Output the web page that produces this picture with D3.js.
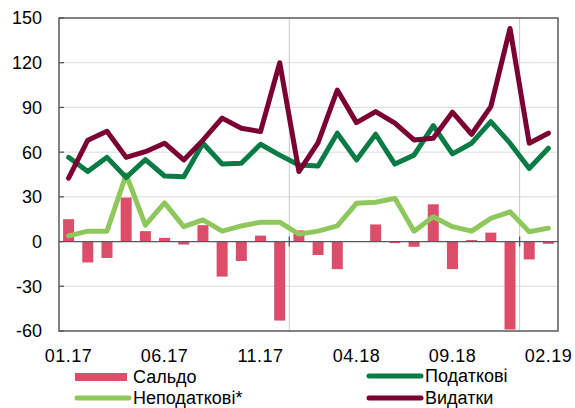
<!DOCTYPE html>
<html>
<head>
<meta charset="utf-8">
<script src="https://cdn.jsdelivr.net/npm/d3@7"></script>
<style>
  body { margin: 0; background: #fff; }
  text { font-family: "Liberation Sans", Arial, sans-serif; fill: #000; }
</style>
</head>
<body>
<script>
// months 01.17 .. 02.19
const months = ['01.17','02.17','03.17','04.17','05.17','06.17','07.17','08.17','09.17','10.17','11.17','12.17',
  '01.18','02.18','03.18','04.18','05.18','06.18','07.18','08.18','09.18','10.18','11.18','12.18',
  '01.19','02.19'];
const tickLabels = ['01.17','06.17','11.17','04.18','09.18','02.19'];
const yTicks = [-60, -30, 0, 30, 60, 90, 120, 150];

const saldo = [15, -14, -11, 29.5, 7, 2.5, -2, 11, -23.5, -13, 4, -53,
  7.5, -9, -18.5, 0, 11.5, -1, -3.5, 25, -18.5, 1, 6, -59, -12, -1.5];
const taxes = [56.5, 47, 56.5, 43, 55, 44, 43.5, 66, 52, 52.5, 65.3, 58,
  51.4, 50.7, 72.7, 54.8, 72, 52, 58, 77.8, 58.8, 66, 80.5, 66, 49, 62.6];
const nonTaxes = [3.8, 7, 7, 45, 11, 26, 10, 14.5, 7, 10.5, 13, 13,
  5, 7, 10.5, 25.7, 26.4, 29, 7, 16.7, 10, 7, 15.6, 20, 6.6, 9];
const spending = [42.5, 68, 74, 56.5, 60.3, 66, 54.8, 68, 82.8, 76, 73.8, 120,
  47, 66.4, 101.7, 79.8, 87.2, 79.4, 68.2, 69.3, 86.8, 72, 90.5, 143, 66, 72.7];

const colors = {
  saldo: '#db4d68',
  taxes: '#087c44',
  nonTaxes: '#8ec85c',
  spending: '#7b0133'
};

const W = 575, H = 408;
const pLeft = 59, pRight = 558, pTop = 18, pBottom = 331;

const svg = d3.select('body').append('svg')
  .attr('width', W).attr('height', H);

const x = d3.scaleBand().domain(months).range([pLeft, pRight]).padding(0);
const y = d3.scaleLinear().domain([-60, 150]).range([pBottom, pTop]);
const cx = m => x(m) + x.bandwidth() / 2;

// horizontal grid
svg.append('g').selectAll('line')
  .data(yTicks.filter(v => v !== 0 && v !== -60 && v !== 150))
  .enter().append('line')
  .attr('x1', pLeft).attr('x2', pRight)
  .attr('y1', d => y(d)).attr('y2', d => y(d))
  .attr('stroke', '#d6dcdc').attr('stroke-width', 1);

// vertical year separators
const yearStarts = ['01.18', '01.19'];
svg.append('g').selectAll('line')
  .data(yearStarts)
  .enter().append('line')
  .attr('x1', d => x(d)).attr('x2', d => x(d))
  .attr('y1', pTop).attr('y2', pBottom)
  .attr('stroke', '#c8c8c8').attr('stroke-width', 1);

// bars
svg.append('g').selectAll('rect')
  .data(saldo)
  .enter().append('rect')
  .attr('x', (d, i) => cx(months[i]) - 5.5)
  .attr('width', 11)
  .attr('y', d => y(Math.max(0, d)))
  .attr('height', d => Math.abs(y(d) - y(0)))
  .attr('fill', colors.saldo);

// zero line + ticks
svg.append('line')
  .attr('x1', pLeft).attr('x2', pRight)
  .attr('y1', y(0)).attr('y2', y(0))
  .attr('stroke', '#595959').attr('stroke-width', 1.3);
svg.append('g').selectAll('line')
  .data(yearStarts)
  .enter().append('line')
  .attr('x1', d => x(d)).attr('x2', d => x(d))
  .attr('y1', y(0) - 5).attr('y2', y(0) + 5)
  .attr('stroke', '#595959').attr('stroke-width', 1.3);

// lines
const line = d3.line()
  .x((d, i) => cx(months[i]))
  .y(d => y(d));

[[nonTaxes, colors.nonTaxes], [taxes, colors.taxes], [spending, colors.spending]]
  .forEach(([data, c]) => {
    svg.append('path')
      .datum(data)
      .attr('d', line)
      .attr('fill', 'none')
      .attr('stroke', c)
      .attr('stroke-width', 5)
      .attr('stroke-linejoin', 'round')
      .attr('stroke-linecap', 'round');
  });

// frame
svg.append('rect')
  .attr('x', pLeft).attr('y', pTop)
  .attr('width', pRight - pLeft).attr('height', pBottom - pTop)
  .attr('fill', 'none')
  .attr('stroke', '#595959').attr('stroke-width', 1.5);

// left ticks (inward)
svg.append('g').selectAll('line')
  .data(yTicks)
  .enter().append('line')
  .attr('x1', pLeft).attr('x2', pLeft + 5)
  .attr('y1', d => y(d)).attr('y2', d => y(d))
  .attr('stroke', '#595959').attr('stroke-width', 1.3);

// y labels
svg.append('g').selectAll('text')
  .data(yTicks)
  .enter().append('text')
  .attr('x', 42)
  .attr('y', d => y(d))
  .attr('dy', '0.36em')
  .attr('text-anchor', 'end')
  .style('font-size', '18px')
  .text(d => d);

// x labels
svg.append('g').selectAll('text')
  .data(tickLabels)
  .enter().append('text')
  .attr('x', d => cx(d))
  .attr('y', 362)
  .attr('text-anchor', 'middle')
  .style('font-size', '18px')
  .style('letter-spacing', '0.5px')
  .text(d => d);

// legend
const legend = [
  { name: 'Сальдо', color: colors.saldo, type: 'bar', x: 75, y: 377 },
  { name: 'Податкові', color: colors.taxes, type: 'line', x: 367, y: 376 },
  { name: 'Неподаткові*', color: colors.nonTaxes, type: 'line', x: 75, y: 398 },
  { name: 'Видатки', color: colors.spending, type: 'line', x: 367, y: 398 }
];
const lg = svg.append('g').selectAll('g').data(legend).enter().append('g');
lg.filter(d => d.type === 'bar').append('rect')
  .attr('x', d => d.x).attr('y', d => d.y - 4)
  .attr('width', 52).attr('height', 8)
  .attr('fill', d => d.color);
lg.filter(d => d.type === 'line').append('line')
  .attr('x1', d => d.x + 2).attr('x2', d => d.x + 54)
  .attr('y1', d => d.y).attr('y2', d => d.y)
  .attr('stroke', d => d.color)
  .attr('stroke-width', 5)
  .attr('stroke-linecap', 'round');
lg.append('text')
  .attr('x', d => d.x + 58)
  .attr('y', d => d.y + 6)
  .style('font-size', '18px')
  .text(d => d.name);
</script>
</body>
</html>
